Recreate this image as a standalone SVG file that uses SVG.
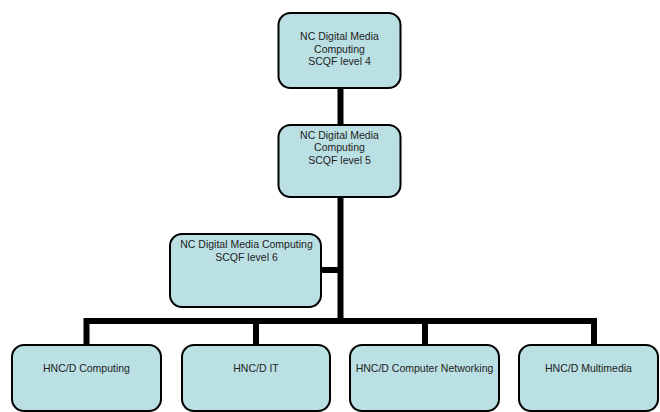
<svg xmlns="http://www.w3.org/2000/svg" width="660" height="412" viewBox="0 0 660 412">
<style>
.box{fill:#BBE0E3;stroke:#000;stroke-width:2}
.t{font-family:"Liberation Sans",Arial,sans-serif;font-size:10.5px;fill:#222;text-anchor:middle}
.c{fill:none;stroke:#000;stroke-width:6;stroke-linejoin:miter}
</style>
<rect width="660" height="412" fill="#fff"/>
<g id="connectors">
<line class="c" x1="340.5" y1="88" x2="340.5" y2="125"/>
<line class="c" x1="340.5" y1="197" x2="340.5" y2="321"/>
<line class="c" x1="321" y1="270" x2="340.5" y2="270"/>
<path class="c" d="M86.5 345 V321 H594 V345"/>
<line class="c" x1="256" y1="321" x2="256" y2="345"/>
<line class="c" x1="425" y1="321" x2="425" y2="345"/>
</g>
<g id="n1">
<rect class="box" x="278.5" y="13" width="122" height="75" rx="12"/>
<text class="t" x="339.5" y="40">NC Digital Media</text>
<text class="t" x="339.5" y="52.7">Computing</text>
<text class="t" x="339.5" y="65.4">SCQF level 4</text>
</g>
<g id="n2">
<rect class="box" x="278.5" y="125" width="122" height="72" rx="12"/>
<text class="t" x="339.5" y="138.5">NC Digital Media</text>
<text class="t" x="339.5" y="151.2">Computing</text>
<text class="t" x="339.5" y="163.9">SCQF level 5</text>
</g>
<g id="n3">
<rect class="box" x="170" y="234" width="151" height="73" rx="12"/>
<text class="t" x="246.5" y="248.3">NC Digital Media Computing</text>
<text class="t" x="246.5" y="261">SCQF level 6</text>
</g>
<g id="n4">
<rect class="box" x="12" y="345" width="149" height="66" rx="12"/>
<text class="t" x="86.5" y="372.3">HNC/D Computing</text>
</g>
<g id="n5">
<rect class="box" x="182" y="345" width="148" height="66" rx="12"/>
<text class="t" x="256" y="372.3">HNC/D IT</text>
</g>
<g id="n6">
<rect class="box" x="350" y="345" width="149" height="66" rx="12"/>
<text class="t" x="424.5" y="372.3">HNC/D Computer Networking</text>
</g>
<g id="n7">
<rect class="box" x="519" y="345" width="139" height="66" rx="12"/>
<text class="t" x="588.5" y="372.3">HNC/D Multimedia</text>
</g>
</svg>
